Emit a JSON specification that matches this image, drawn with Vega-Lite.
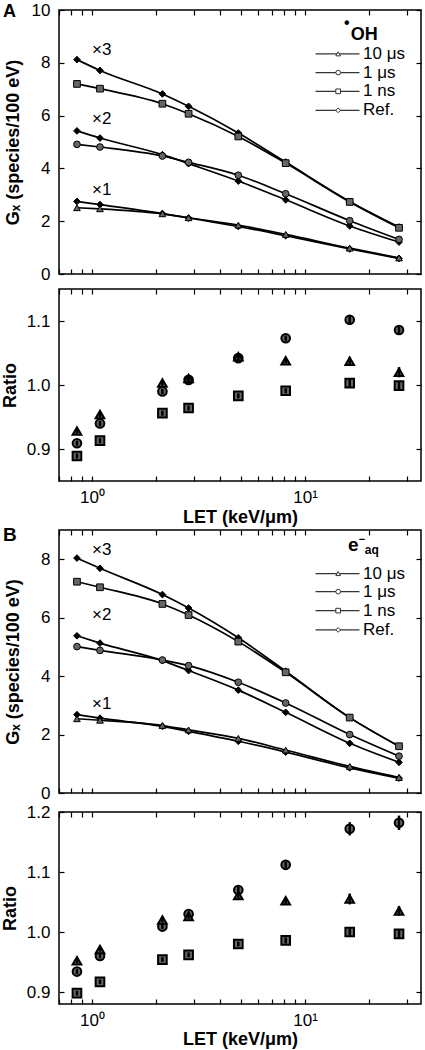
{
"$schema": "https://vega.github.io/schema/vega-lite/v6.json",
"padding": {"left": 0, "top": 0, "right": 2, "bottom": 0},
"background": "white",
"datasets": {
"g": [
{"p":"A","k":"x3","s":"Ref","x":0.85,"v":8.12},{"p":"A","k":"x3","s":"Ref","x":1.09,"v":7.71},{"p":"A","k":"x3","s":"Ref","x":2.14,"v":6.82},{"p":"A","k":"x3","s":"Ref","x":2.84,"v":6.35},{"p":"A","k":"x3","s":"Ref","x":4.86,"v":5.34},{"p":"A","k":"x3","s":"Ref","x":8.11,"v":4.24},{"p":"A","k":"x3","s":"Ref","x":16.2,"v":2.75},{"p":"A","k":"x3","s":"Ref","x":27.6,"v":1.78},
{"p":"A","k":"x3","s":"1 ns","x":0.85,"v":7.20},{"p":"A","k":"x3","s":"1 ns","x":1.09,"v":7.02},{"p":"A","k":"x3","s":"1 ns","x":2.14,"v":6.45},{"p":"A","k":"x3","s":"1 ns","x":2.84,"v":6.07},{"p":"A","k":"x3","s":"1 ns","x":4.86,"v":5.21},{"p":"A","k":"x3","s":"1 ns","x":8.11,"v":4.20},{"p":"A","k":"x3","s":"1 ns","x":16.2,"v":2.73},{"p":"A","k":"x3","s":"1 ns","x":27.6,"v":1.75},
{"p":"A","k":"x2","s":"Ref","x":0.85,"v":5.42},{"p":"A","k":"x2","s":"Ref","x":1.09,"v":5.15},{"p":"A","k":"x2","s":"Ref","x":2.14,"v":4.52},{"p":"A","k":"x2","s":"Ref","x":2.84,"v":4.18},{"p":"A","k":"x2","s":"Ref","x":4.86,"v":3.52},{"p":"A","k":"x2","s":"Ref","x":8.11,"v":2.81},{"p":"A","k":"x2","s":"Ref","x":16.2,"v":1.82},{"p":"A","k":"x2","s":"Ref","x":27.6,"v":1.21},
{"p":"A","k":"x2","s":"1 μs","x":0.85,"v":4.91},{"p":"A","k":"x2","s":"1 μs","x":1.09,"v":4.81},{"p":"A","k":"x2","s":"1 μs","x":2.14,"v":4.47},{"p":"A","k":"x2","s":"1 μs","x":2.84,"v":4.23},{"p":"A","k":"x2","s":"1 μs","x":4.86,"v":3.74},{"p":"A","k":"x2","s":"1 μs","x":8.11,"v":3.04},{"p":"A","k":"x2","s":"1 μs","x":16.2,"v":2.02},{"p":"A","k":"x2","s":"1 μs","x":27.6,"v":1.31},
{"p":"A","k":"x1","s":"Ref","x":0.85,"v":2.75},{"p":"A","k":"x1","s":"Ref","x":1.09,"v":2.63},{"p":"A","k":"x1","s":"Ref","x":2.14,"v":2.29},{"p":"A","k":"x1","s":"Ref","x":2.84,"v":2.12},{"p":"A","k":"x1","s":"Ref","x":4.86,"v":1.80},{"p":"A","k":"x1","s":"Ref","x":8.11,"v":1.45},{"p":"A","k":"x1","s":"Ref","x":16.2,"v":0.95},{"p":"A","k":"x1","s":"Ref","x":27.6,"v":0.59},
{"p":"A","k":"x1","s":"10 μs","x":0.85,"v":2.51},{"p":"A","k":"x1","s":"10 μs","x":1.09,"v":2.47},{"p":"A","k":"x1","s":"10 μs","x":2.14,"v":2.28},{"p":"A","k":"x1","s":"10 μs","x":2.84,"v":2.13},{"p":"A","k":"x1","s":"10 μs","x":4.86,"v":1.85},{"p":"A","k":"x1","s":"10 μs","x":8.11,"v":1.50},{"p":"A","k":"x1","s":"10 μs","x":16.2,"v":0.98},{"p":"A","k":"x1","s":"10 μs","x":27.6,"v":0.61},
{"p":"B","k":"x3","s":"Ref","x":0.85,"v":8.04},{"p":"B","k":"x3","s":"Ref","x":1.09,"v":7.69},{"p":"B","k":"x3","s":"Ref","x":2.14,"v":6.79},{"p":"B","k":"x3","s":"Ref","x":2.84,"v":6.33},{"p":"B","k":"x3","s":"Ref","x":4.86,"v":5.31},{"p":"B","k":"x3","s":"Ref","x":8.11,"v":4.17},{"p":"B","k":"x3","s":"Ref","x":16.2,"v":2.58},{"p":"B","k":"x3","s":"Ref","x":27.6,"v":1.60},
{"p":"B","k":"x3","s":"1 ns","x":0.85,"v":7.23},{"p":"B","k":"x3","s":"1 ns","x":1.09,"v":7.04},{"p":"B","k":"x3","s":"1 ns","x":2.14,"v":6.47},{"p":"B","k":"x3","s":"1 ns","x":2.84,"v":6.09},{"p":"B","k":"x3","s":"1 ns","x":4.86,"v":5.18},{"p":"B","k":"x3","s":"1 ns","x":8.11,"v":4.13},{"p":"B","k":"x3","s":"1 ns","x":16.2,"v":2.58},{"p":"B","k":"x3","s":"1 ns","x":27.6,"v":1.60},
{"p":"B","k":"x2","s":"Ref","x":0.85,"v":5.38},{"p":"B","k":"x2","s":"Ref","x":1.09,"v":5.13},{"p":"B","k":"x2","s":"Ref","x":2.14,"v":4.53},{"p":"B","k":"x2","s":"Ref","x":2.84,"v":4.19},{"p":"B","k":"x2","s":"Ref","x":4.86,"v":3.52},{"p":"B","k":"x2","s":"Ref","x":8.11,"v":2.76},{"p":"B","k":"x2","s":"Ref","x":16.2,"v":1.70},{"p":"B","k":"x2","s":"Ref","x":27.6,"v":1.05},
{"p":"B","k":"x2","s":"1 μs","x":0.85,"v":5.01},{"p":"B","k":"x2","s":"1 μs","x":1.09,"v":4.88},{"p":"B","k":"x2","s":"1 μs","x":2.14,"v":4.55},{"p":"B","k":"x2","s":"1 μs","x":2.84,"v":4.36},{"p":"B","k":"x2","s":"1 μs","x":4.86,"v":3.79},{"p":"B","k":"x2","s":"1 μs","x":8.11,"v":3.08},{"p":"B","k":"x2","s":"1 μs","x":16.2,"v":2.00},{"p":"B","k":"x2","s":"1 μs","x":27.6,"v":1.26},
{"p":"B","k":"x1","s":"Ref","x":0.85,"v":2.68},{"p":"B","k":"x1","s":"Ref","x":1.09,"v":2.56},{"p":"B","k":"x1","s":"Ref","x":2.14,"v":2.28},{"p":"B","k":"x1","s":"Ref","x":2.84,"v":2.11},{"p":"B","k":"x1","s":"Ref","x":4.86,"v":1.77},{"p":"B","k":"x1","s":"Ref","x":8.11,"v":1.40},{"p":"B","k":"x1","s":"Ref","x":16.2,"v":0.86},{"p":"B","k":"x1","s":"Ref","x":27.6,"v":0.51},
{"p":"B","k":"x1","s":"10 μs","x":0.85,"v":2.54},{"p":"B","k":"x1","s":"10 μs","x":1.09,"v":2.49},{"p":"B","k":"x1","s":"10 μs","x":2.14,"v":2.31},{"p":"B","k":"x1","s":"10 μs","x":2.84,"v":2.16},{"p":"B","k":"x1","s":"10 μs","x":4.86,"v":1.87},{"p":"B","k":"x1","s":"10 μs","x":8.11,"v":1.47},{"p":"B","k":"x1","s":"10 μs","x":16.2,"v":0.91},{"p":"B","k":"x1","s":"10 μs","x":27.6,"v":0.53}
],
"r": [
{"p":"A","s":"1 ns","x":0.85,"r":0.889,"e":0.004},{"p":"A","s":"1 ns","x":1.09,"r":0.913,"e":0.004},{"p":"A","s":"1 ns","x":2.14,"r":0.956,"e":0.004},{"p":"A","s":"1 ns","x":2.84,"r":0.964,"e":0.004},{"p":"A","s":"1 ns","x":4.86,"r":0.983,"e":0.004},{"p":"A","s":"1 ns","x":8.11,"r":0.991,"e":0.004},{"p":"A","s":"1 ns","x":16.2,"r":1.003,"e":0.006},{"p":"A","s":"1 ns","x":27.6,"r":0.999,"e":0.007},
{"p":"A","s":"1 μs","x":0.85,"r":0.909,"e":0.004},{"p":"A","s":"1 μs","x":1.09,"r":0.940,"e":0.004},{"p":"A","s":"1 μs","x":2.14,"r":0.990,"e":0.004},{"p":"A","s":"1 μs","x":2.84,"r":1.008,"e":0.004},{"p":"A","s":"1 μs","x":4.86,"r":1.042,"e":0.004},{"p":"A","s":"1 μs","x":8.11,"r":1.073,"e":0.004},{"p":"A","s":"1 μs","x":16.2,"r":1.102,"e":0.006},{"p":"A","s":"1 μs","x":27.6,"r":1.086,"e":0.006},
{"p":"A","s":"10 μs","x":0.85,"r":0.928,"e":0.004},{"p":"A","s":"10 μs","x":1.09,"r":0.954,"e":0.004},{"p":"A","s":"10 μs","x":2.14,"r":1.003,"e":0.004},{"p":"A","s":"10 μs","x":2.84,"r":1.010,"e":0.004},{"p":"A","s":"10 μs","x":4.86,"r":1.044,"e":0.004},{"p":"A","s":"10 μs","x":8.11,"r":1.038,"e":0.004},{"p":"A","s":"10 μs","x":16.2,"r":1.037,"e":0.007},{"p":"A","s":"10 μs","x":27.6,"r":1.020,"e":0.008},
{"p":"B","s":"1 ns","x":0.85,"r":0.898,"e":0.004},{"p":"B","s":"1 ns","x":1.09,"r":0.917,"e":0.004},{"p":"B","s":"1 ns","x":2.14,"r":0.954,"e":0.004},{"p":"B","s":"1 ns","x":2.84,"r":0.962,"e":0.004},{"p":"B","s":"1 ns","x":4.86,"r":0.980,"e":0.004},{"p":"B","s":"1 ns","x":8.11,"r":0.986,"e":0.005},{"p":"B","s":"1 ns","x":16.2,"r":1.000,"e":0.006},{"p":"B","s":"1 ns","x":27.6,"r":0.997,"e":0.007},
{"p":"B","s":"1 μs","x":0.85,"r":0.934,"e":0.004},{"p":"B","s":"1 μs","x":1.09,"r":0.960,"e":0.004},{"p":"B","s":"1 μs","x":2.14,"r":1.009,"e":0.004},{"p":"B","s":"1 μs","x":2.84,"r":1.030,"e":0.004},{"p":"B","s":"1 μs","x":4.86,"r":1.070,"e":0.005},{"p":"B","s":"1 μs","x":8.11,"r":1.112,"e":0.005},{"p":"B","s":"1 μs","x":16.2,"r":1.172,"e":0.011},{"p":"B","s":"1 μs","x":27.6,"r":1.182,"e":0.012},
{"p":"B","s":"10 μs","x":0.85,"r":0.952,"e":0.004},{"p":"B","s":"10 μs","x":1.09,"r":0.971,"e":0.004},{"p":"B","s":"10 μs","x":2.14,"r":1.020,"e":0.004},{"p":"B","s":"10 μs","x":2.84,"r":1.026,"e":0.004},{"p":"B","s":"10 μs","x":4.86,"r":1.061,"e":0.005},{"p":"B","s":"10 μs","x":8.11,"r":1.052,"e":0.005},{"p":"B","s":"10 μs","x":16.2,"r":1.055,"e":0.009},{"p":"B","s":"10 μs","x":27.6,"r":1.035,"e":0.008}
],
"leg": [
{"p":"A","s":"10 μs","lab":"10 μs","y":8.34},{"p":"A","s":"1 μs","lab":"1 μs","y":7.63},{"p":"A","s":"1 ns","lab":"1 ns","y":6.92},{"p":"A","s":"Ref","lab":"Ref.","y":6.20},
{"p":"B","s":"10 μs","lab":"10 μs","y":7.51},{"p":"B","s":"1 μs","lab":"1 μs","y":6.89},{"p":"B","s":"1 ns","lab":"1 ns","y":6.24},{"p":"B","s":"Ref","lab":"Ref.","y":5.58}
],
"ann": [
{"p":"A","role":"mult","t":"×3","x":1.0,"y":8.48},{"p":"A","role":"mult","t":"×2","x":1.0,"y":5.87},{"p":"A","role":"mult","t":"×1","x":1.0,"y":3.18},
{"p":"B","role":"mult","t":"×3","x":1.0,"y":8.32},{"p":"B","role":"mult","t":"×2","x":1.0,"y":6.10},{"p":"B","role":"mult","t":"×1","x":1.0,"y":3.06},
{"p":"A","role":"panel","t":"A","x":0.382,"y":9.73},{"p":"B","role":"panel","t":"B","x":0.382,"y":8.63},
{"p":"A","role":"big","t":"OH","x":16.4,"y":8.86},{"p":"A","role":"dot","t":"•","x":15.7,"y":9.5},
{"p":"B","role":"big","t":"e","x":15.92,"y":8.27},{"p":"B","role":"dot","t":"−","x":18.5,"y":8.66},{"p":"B","role":"small","t":"aq","x":19.06,"y":8.19}
]
},
"config": {
"font": "Liberation Sans",
"view": {"stroke": "black", "strokeWidth": 1.5},
"axis": {"labelFont": "Liberation Sans", "titleFont": "Liberation Sans", "labelFontSize": 17, "titleFontSize": 18, "titleFontWeight": "bold", "labelColor": "black", "titleColor": "black", "tickColor": "black", "tickWidth": 1.2, "tickSize": -5, "labelPadding": 14, "domain": false, "grid": false, "labelOverlap": false, "labelFlush": false}
},
"vconcat": [
{
"spacing": 4,
"vconcat": [
{
"width": 362, "height": 264,
"resolve": {"axis": {"x": "independent", "y": "independent"}},
"layer": [
{"data": {"name": "g"}, "transform": [{"filter": "datum.p == 'A'"}],
 "mark": {"type": "line", "color": "black", "strokeWidth": 1.7, "interpolate": "monotone"},
 "encoding": {
  "x": {"field": "x", "type": "quantitative", "scale": {"type": "log", "domain": [0.7, 35], "nice": false}, "axis": {"orient": "bottom", "values": [0.7,0.8,0.9,1,2,3,4,5,6,7,8,9,10,20,30], "labels": false, "title": null}},
  "y": {"field": "v", "type": "quantitative", "scale": {"domain": [0, 10], "nice": false, "zero": false}, "axis": {"orient": "left", "values": [0,2,4,6,8,10], "title": "Gₓ (species/100 eV)", "titlePadding": 9}},
  "detail": [{"field": "s"}, {"field": "k"}]
 }},
{"data": {"name": "g"}, "transform": [{"filter": "datum.p == 'A'"}],
 "mark": {"type": "point", "filled": true, "stroke": "black", "strokeWidth": 1, "size": 45, "opacity": 1},
 "encoding": {
  "x": {"field": "x", "type": "quantitative", "axis": {"orient": "top", "values": [0.7,0.8,0.9,1,2,3,4,5,6,7,8,9,10,20,30], "labels": false, "title": null}},
  "y": {"field": "v", "type": "quantitative", "axis": {"orient": "right", "values": [0,2,4,6,8,10], "labels": false, "title": null}},
  "shape": {"field": "s", "type": "nominal", "scale": {"domain": ["10 μs","1 μs","1 ns","Ref"], "range": ["triangle-up","circle","square","diamond"]}, "legend": null},
  "fill": {"field": "s", "type": "nominal", "scale": {"domain": ["10 μs","1 μs","1 ns","Ref"], "range": ["#666","#666","#666","black"]}, "legend": null}
 }},
{"data": {"name": "leg"}, "transform": [{"filter": "datum.p == 'A'"}],
 "mark": {"type": "rule", "color": "#333", "strokeWidth": 1.3},
 "encoding": {
  "x": {"datum": 11.2, "type": "quantitative", "axis": null},
  "x2": {"datum": 18.0},
  "y": {"field": "y", "type": "quantitative", "axis": null}
 }},
{"data": {"name": "leg"}, "transform": [{"filter": "datum.p == 'A'"}],
 "mark": {"type": "point", "filled": true, "fill": "white", "stroke": "#333", "strokeWidth": 1, "size": 22, "opacity": 1},
 "encoding": {
  "x": {"datum": 14.3, "type": "quantitative", "axis": null},
  "y": {"field": "y", "type": "quantitative", "axis": null},
  "shape": {"field": "s", "type": "nominal", "legend": null}
 }},
{"data": {"name": "leg"}, "transform": [{"filter": "datum.p == 'A'"}],
 "mark": {"type": "text", "align": "left", "baseline": "middle", "fontSize": 17, "color": "black"},
 "encoding": {
  "x": {"datum": 18.7, "type": "quantitative", "axis": null},
  "y": {"field": "y", "type": "quantitative", "axis": null},
  "text": {"field": "lab"}
 }},
{"data": {"name": "ann"}, "transform": [{"filter": "datum.p == 'A' && datum.role == 'mult'"}],
 "mark": {"type": "text", "align": "left", "baseline": "middle", "fontSize": 17, "color": "black"},
 "encoding": {"x": {"field": "x", "type": "quantitative", "axis": null}, "y": {"field": "y", "type": "quantitative", "axis": null}, "text": {"field": "t"}}},
{"data": {"name": "ann"}, "transform": [{"filter": "datum.p == 'A' && (datum.role == 'panel' || datum.role == 'big')"}],
 "mark": {"type": "text", "align": "left", "baseline": "alphabetic", "fontSize": 18, "fontWeight": "bold", "color": "black"},
 "encoding": {"x": {"field": "x", "type": "quantitative", "axis": null}, "y": {"field": "y", "type": "quantitative", "axis": null}, "text": {"field": "t"}}},
{"data": {"name": "ann"}, "transform": [{"filter": "datum.p == 'A' && datum.role == 'dot'"}],
 "mark": {"type": "text", "align": "center", "baseline": "middle", "fontSize": 16, "fontWeight": "bold", "color": "black"},
 "encoding": {"x": {"field": "x", "type": "quantitative", "axis": null}, "y": {"field": "y", "type": "quantitative", "axis": null}, "text": {"field": "t"}}}
]
},
{
"width": 362, "height": 192,
"resolve": {"axis": {"x": "independent", "y": "independent"}},
"layer": [
{"data": {"name": "r"}, "transform": [{"filter": "datum.p == 'A'"}],
 "mark": {"type": "point", "filled": true, "stroke": "black", "strokeWidth": 2, "size": 75, "opacity": 1},
 "encoding": {
  "x": {"field": "x", "type": "quantitative", "scale": {"type": "log", "domain": [0.7, 35], "nice": false}, "axis": {"orient": "bottom", "values": [0.7,0.8,0.9,1,2,3,4,5,6,7,8,9,10,20,30], "labelExpr": "datum.value == 1 ? '10⁰' : (datum.value == 10 ? '10¹' : '')", "title": "LET (keV/μm)", "labelPadding": 13, "titlePadding": 3}},
  "y": {"field": "r", "type": "quantitative", "scale": {"domain": [0.85, 1.15], "nice": false, "zero": false}, "axis": {"orient": "left", "values": [0.9, 1.0, 1.1], "format": ".1f", "title": "Ratio", "titlePadding": 7}},
  "shape": {"field": "s", "type": "nominal", "scale": {"domain": ["10 μs","1 μs","1 ns"], "range": ["triangle-up","circle","square"]}, "legend": null},
  "fill": {"field": "s", "type": "nominal", "scale": {"domain": ["10 μs","1 μs","1 ns"], "range": ["black","transparent","transparent"]}, "legend": null}
 }},
{"data": {"name": "r"}, "transform": [{"filter": "datum.p == 'A'"}],
 "mark": {"type": "errorbar", "color": "black", "rule": {"strokeWidth": 2.5}},
 "encoding": {
  "x": {"field": "x", "type": "quantitative", "axis": {"orient": "top", "values": [0.7,0.8,0.9,1,2,3,4,5,6,7,8,9,10,20,30], "labels": false, "title": null}},
  "y": {"field": "r", "type": "quantitative", "axis": {"orient": "right", "values": [0.9, 1.0, 1.1], "labels": false, "title": null}},
  "yError": {"field": "e"}
 }},
{"mark": {"type": "rule", "color": "black", "strokeWidth": 2, "strokeDash": [8, 6]},
 "encoding": {"y": {"datum": 1, "type": "quantitative", "axis": null}}}
]
}
]
},
{
"spacing": 0,
"vconcat": [
{
"width": 362, "height": 263,
"resolve": {"axis": {"x": "independent", "y": "independent"}},
"layer": [
{"data": {"name": "g"}, "transform": [{"filter": "datum.p == 'B'"}],
 "mark": {"type": "line", "color": "black", "strokeWidth": 1.7, "interpolate": "monotone"},
 "encoding": {
  "x": {"field": "x", "type": "quantitative", "scale": {"type": "log", "domain": [0.7, 35], "nice": false}, "axis": {"orient": "bottom", "values": [0.7,0.8,0.9,1,2,3,4,5,6,7,8,9,10,20,30], "labels": false, "title": null}},
  "y": {"field": "v", "type": "quantitative", "scale": {"domain": [0, 9], "nice": false, "zero": false}, "axis": {"orient": "left", "values": [0,2,4,6,8], "title": "Gₓ (species/100 eV)", "titlePadding": 18}},
  "detail": [{"field": "s"}, {"field": "k"}]
 }},
{"data": {"name": "g"}, "transform": [{"filter": "datum.p == 'B'"}],
 "mark": {"type": "point", "filled": true, "stroke": "black", "strokeWidth": 1, "size": 45, "opacity": 1},
 "encoding": {
  "x": {"field": "x", "type": "quantitative", "axis": {"orient": "top", "values": [0.7,0.8,0.9,1,2,3,4,5,6,7,8,9,10,20,30], "labels": false, "title": null}},
  "y": {"field": "v", "type": "quantitative", "axis": {"orient": "right", "values": [0,2,4,6,8], "labels": false, "title": null}},
  "shape": {"field": "s", "type": "nominal", "scale": {"domain": ["10 μs","1 μs","1 ns","Ref"], "range": ["triangle-up","circle","square","diamond"]}, "legend": null},
  "fill": {"field": "s", "type": "nominal", "scale": {"domain": ["10 μs","1 μs","1 ns","Ref"], "range": ["#666","#666","#666","black"]}, "legend": null}
 }},
{"data": {"name": "leg"}, "transform": [{"filter": "datum.p == 'B'"}],
 "mark": {"type": "rule", "color": "#333", "strokeWidth": 1.3},
 "encoding": {
  "x": {"datum": 11.2, "type": "quantitative", "axis": null},
  "x2": {"datum": 18.0},
  "y": {"field": "y", "type": "quantitative", "axis": null}
 }},
{"data": {"name": "leg"}, "transform": [{"filter": "datum.p == 'B'"}],
 "mark": {"type": "point", "filled": true, "fill": "white", "stroke": "#333", "strokeWidth": 1, "size": 22, "opacity": 1},
 "encoding": {
  "x": {"datum": 14.3, "type": "quantitative", "axis": null},
  "y": {"field": "y", "type": "quantitative", "axis": null},
  "shape": {"field": "s", "type": "nominal", "legend": null}
 }},
{"data": {"name": "leg"}, "transform": [{"filter": "datum.p == 'B'"}],
 "mark": {"type": "text", "align": "left", "baseline": "middle", "fontSize": 17, "color": "black"},
 "encoding": {
  "x": {"datum": 18.7, "type": "quantitative", "axis": null},
  "y": {"field": "y", "type": "quantitative", "axis": null},
  "text": {"field": "lab"}
 }},
{"data": {"name": "ann"}, "transform": [{"filter": "datum.p == 'B' && datum.role == 'mult'"}],
 "mark": {"type": "text", "align": "left", "baseline": "middle", "fontSize": 17, "color": "black"},
 "encoding": {"x": {"field": "x", "type": "quantitative", "axis": null}, "y": {"field": "y", "type": "quantitative", "axis": null}, "text": {"field": "t"}}},
{"data": {"name": "ann"}, "transform": [{"filter": "datum.p == 'B' && (datum.role == 'panel' || datum.role == 'big')"}],
 "mark": {"type": "text", "align": "left", "baseline": "alphabetic", "fontSize": 19, "fontWeight": "bold", "color": "black"},
 "encoding": {"x": {"field": "x", "type": "quantitative", "axis": null}, "y": {"field": "y", "type": "quantitative", "axis": null}, "text": {"field": "t"}}},
{"data": {"name": "ann"}, "transform": [{"filter": "datum.p == 'B' && datum.role == 'dot'"}],
 "mark": {"type": "text", "align": "center", "baseline": "middle", "fontSize": 11, "fontWeight": "bold", "color": "black"},
 "encoding": {"x": {"field": "x", "type": "quantitative", "axis": null}, "y": {"field": "y", "type": "quantitative", "axis": null}, "text": {"field": "t"}}},
{"data": {"name": "ann"}, "transform": [{"filter": "datum.p == 'B' && datum.role == 'small'"}],
 "mark": {"type": "text", "align": "left", "baseline": "alphabetic", "fontSize": 12, "fontWeight": "bold", "color": "black"},
 "encoding": {"x": {"field": "x", "type": "quantitative", "axis": null}, "y": {"field": "y", "type": "quantitative", "axis": null}, "text": {"field": "t"}}}
]
},
{
"width": 362, "height": 192,
"resolve": {"axis": {"x": "independent", "y": "independent"}},
"layer": [
{"data": {"name": "r"}, "transform": [{"filter": "datum.p == 'B'"}],
 "mark": {"type": "point", "filled": true, "stroke": "black", "strokeWidth": 2, "size": 75, "opacity": 1},
 "encoding": {
  "x": {"field": "x", "type": "quantitative", "scale": {"type": "log", "domain": [0.7, 35], "nice": false}, "axis": {"orient": "bottom", "values": [0.7,0.8,0.9,1,2,3,4,5,6,7,8,9,10,20,30], "labelExpr": "datum.value == 1 ? '10⁰' : (datum.value == 10 ? '10¹' : '')", "title": "LET (keV/μm)", "labelPadding": 13, "titlePadding": 2}},
  "y": {"field": "r", "type": "quantitative", "scale": {"domain": [0.88, 1.2], "nice": false, "zero": false}, "axis": {"orient": "left", "values": [0.9, 1.0, 1.1, 1.2], "format": ".1f", "title": "Ratio", "titlePadding": 7}},
  "shape": {"field": "s", "type": "nominal", "scale": {"domain": ["10 μs","1 μs","1 ns"], "range": ["triangle-up","circle","square"]}, "legend": null},
  "fill": {"field": "s", "type": "nominal", "scale": {"domain": ["10 μs","1 μs","1 ns"], "range": ["black","transparent","transparent"]}, "legend": null}
 }},
{"data": {"name": "r"}, "transform": [{"filter": "datum.p == 'B'"}],
 "mark": {"type": "errorbar", "color": "black", "rule": {"strokeWidth": 2.5}},
 "encoding": {
  "x": {"field": "x", "type": "quantitative", "axis": {"orient": "top", "values": [0.7,0.8,0.9,1,2,3,4,5,6,7,8,9,10,20,30], "labels": false, "title": null}},
  "y": {"field": "r", "type": "quantitative", "axis": {"orient": "right", "values": [0.9, 1.0, 1.1, 1.2], "labels": false, "title": null}},
  "yError": {"field": "e"}
 }},
{"mark": {"type": "rule", "color": "black", "strokeWidth": 2, "strokeDash": [8, 6]},
 "encoding": {"y": {"datum": 1, "type": "quantitative", "axis": null}}}
]
}
]
}
],
"spacing": -2
}
